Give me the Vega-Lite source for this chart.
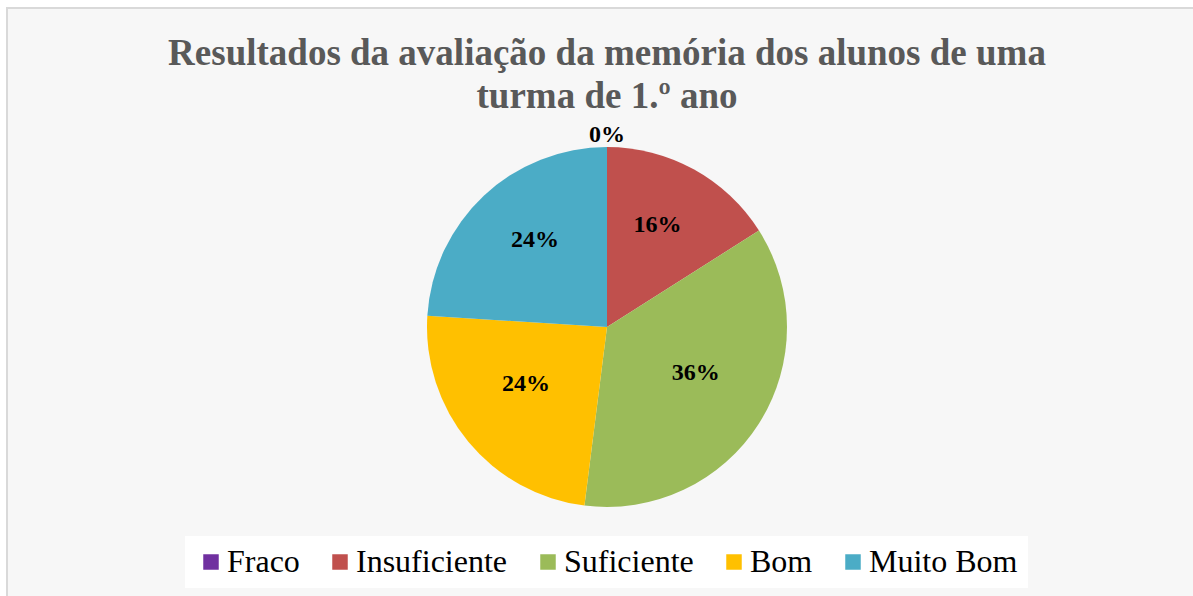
{
  "$schema": "https://vega.github.io/schema/vega-lite/v6.json",
  "width": 1200,
  "height": 638,
  "autosize": "none",
  "padding": {"left": 7, "top": 8, "right": 0, "bottom": 0},
  "background": "#ffffff",
  "view": {"stroke": "#d9d9d9", "strokeWidth": 2, "fill": "#f7f7f7"},
  "title": {
    "text": ["Resultados da avaliação da memória dos alunos de uma", "turma de 1.º ano"],
    "font": "Liberation Serif",
    "fontSize": 37,
    "fontWeight": "bold",
    "color": "#595959",
    "lineHeight": 43,
    "anchor": "middle",
    "frame": "group",
    "orient": "top",
    "baseline": "top",
    "offset": -108
  },
  "data": {
    "values": [
      {"nivel": "Fraco", "pct": 0, "ordem": 1},
      {"nivel": "Insuficiente", "pct": 0.16, "ordem": 2},
      {"nivel": "Suficiente", "pct": 0.36, "ordem": 3},
      {"nivel": "Bom", "pct": 0.24, "ordem": 4},
      {"nivel": "Muito Bom", "pct": 0.24, "ordem": 5}
    ]
  },
  "encoding": {
    "theta": {"field": "pct", "type": "quantitative", "stack": true},
    "order": {"field": "ordem", "type": "quantitative"}
  },
  "layer": [
    {
      "mark": {"type": "arc", "radius": 180},
      "encoding": {
        "color": {
          "field": "nivel",
          "type": "nominal",
          "sort": ["Fraco", "Insuficiente", "Suficiente", "Bom", "Muito Bom"],
          "scale": {
            "domain": ["Fraco", "Insuficiente", "Suficiente", "Bom", "Muito Bom"],
            "range": ["#7030A0", "#C0504D", "#9BBB59", "#FFC000", "#4BACC6"]
          },
          "legend": {
            "orient": "none",
            "legendX": 178,
            "legendY": 528,
            "direction": "horizontal",
            "title": null,
            "fillColor": "#ffffff",
            "padding": 10,
            "symbolType": "square",
            "symbolSize": 240,
            "symbolStrokeWidth": 0,
            "labelFont": "Liberation Serif",
            "labelFontSize": 32,
            "labelColor": "#000000",
            "labelOffset": 0,
            "columnPadding": 24,
            "labelLimit": 0
          }
        }
      }
    },
    {
      "transform": [{"filter": "datum.pct > 0"}],
      "mark": {"type": "text", "radius": 105, "dy": -10, "font": "Liberation Serif", "fontSize": 24, "fontWeight": "bold", "color": "#000000", "baseline": "middle", "align": "center"},
      "encoding": {
        "text": {"field": "pct", "type": "quantitative", "format": ".0%"}
      }
    },
    {
      "transform": [{"filter": "datum.pct == 0"}],
      "mark": {"type": "text", "radius": 192, "font": "Liberation Serif", "fontSize": 24, "fontWeight": "bold", "color": "#000000", "baseline": "middle", "align": "center"},
      "encoding": {
        "text": {"field": "pct", "type": "quantitative", "format": ".0%"}
      }
    }
  ]
}
